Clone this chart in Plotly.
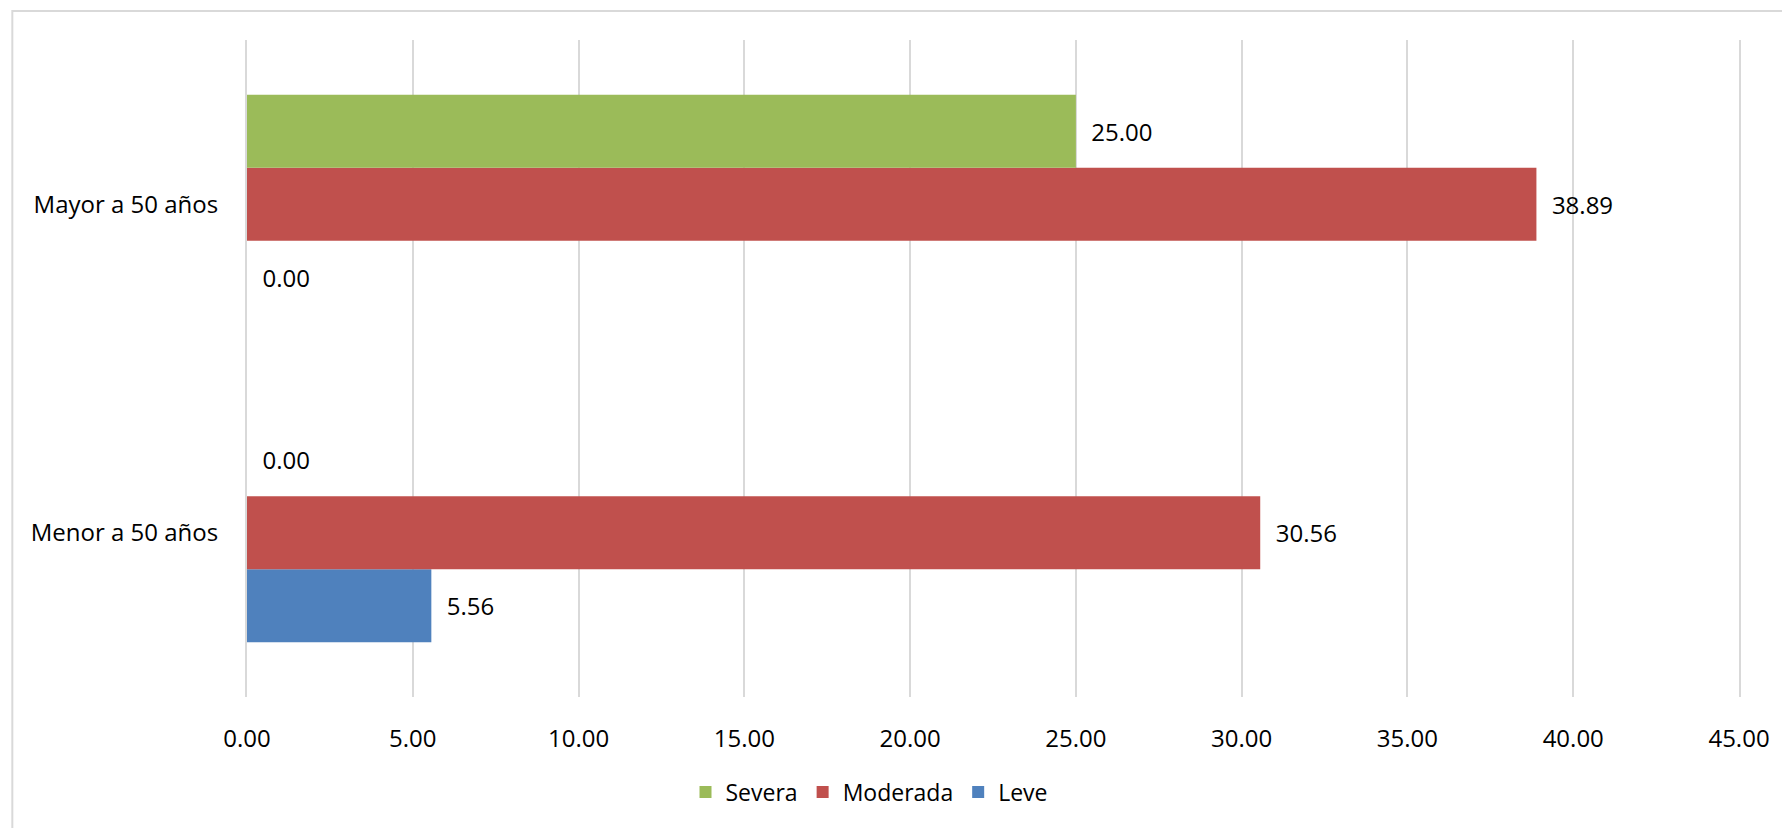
import plotly.graph_objects as go

categories = ["Menor a 50 años", "Mayor a 50 años"]
series_names = ["Leve", "Moderada", "Severa"]
leve = [5.56, 0.00]
moderada = [30.56, 38.89]
severa = [0.00, 25.00]
colors = {"Leve": "#4F81BD", "Moderada": "#C0504D", "Severa": "#9BBB59"}
x_ticks = [0, 5, 10, 15, 20, 25, 30, 35, 40, 45]

FONT = "Open Sans"
W, H = 1782, 828
L, R, T, B = 247, 41, 40, 131

fig = go.Figure()
for name, vals in zip(series_names, [leve, moderada, severa]):
    fig.add_trace(go.Bar(
        y=categories, x=vals, name=name, orientation="h",
        marker=dict(color=colors[name], line=dict(width=0)),
        texttemplate="\u00a0\u00a0%{x:.2f}", textposition="outside",
        textfont=dict(family=FONT, size=24, color="#000000"),
        cliponaxis=False,
    ))

pw = W - L - R
ph = H - T - B
fig.add_shape(type="rect", xref="paper", yref="paper",
              x0=(12 - L) / pw, x1=(W + 20 - L) / pw,
              y0=(H - B - (H + 20)) / ph, y1=(H - B - 11) / ph,
              line=dict(color="#d9d9d9", width=2), fillcolor="rgba(0,0,0,0)", layer="below")

fig.update_layout(
    width=W, height=H,
    margin=dict(l=L, r=R, t=T, b=B, pad=0),
    paper_bgcolor="white", plot_bgcolor="white",
    barmode="group", bargap=0.333, bargroupgap=0,
    font=dict(family=FONT, size=24, color="#000000"),
    showlegend=True,
    legend=dict(orientation="h", traceorder="reversed",
                xref="container", yref="container",
                x=869 / W, xanchor="center", y=1 - 792 / H, yanchor="middle",
                font=dict(family=FONT, size=23, color="#000000"),
                itemwidth=30),
    xaxis=dict(range=[0, 45], tickvals=x_ticks, tickformat=".2f",
               showgrid=True, gridcolor="#d9d9d9", gridwidth=2,
               zeroline=False, showline=False,
               ticks="outside", ticklen=20, tickcolor="rgba(0,0,0,0)",
               tickfont=dict(family=FONT, size=24, color="#000000")),
    yaxis=dict(showgrid=False, zeroline=False,
               showline=True, mirror=True, linecolor="#d9d9d9", linewidth=2,
               ticks="outside", ticklen=22, tickcolor="rgba(0,0,0,0)",
               tickfont=dict(family=FONT, size=24, color="#000000")),
)

fig.write_html("out.html")
